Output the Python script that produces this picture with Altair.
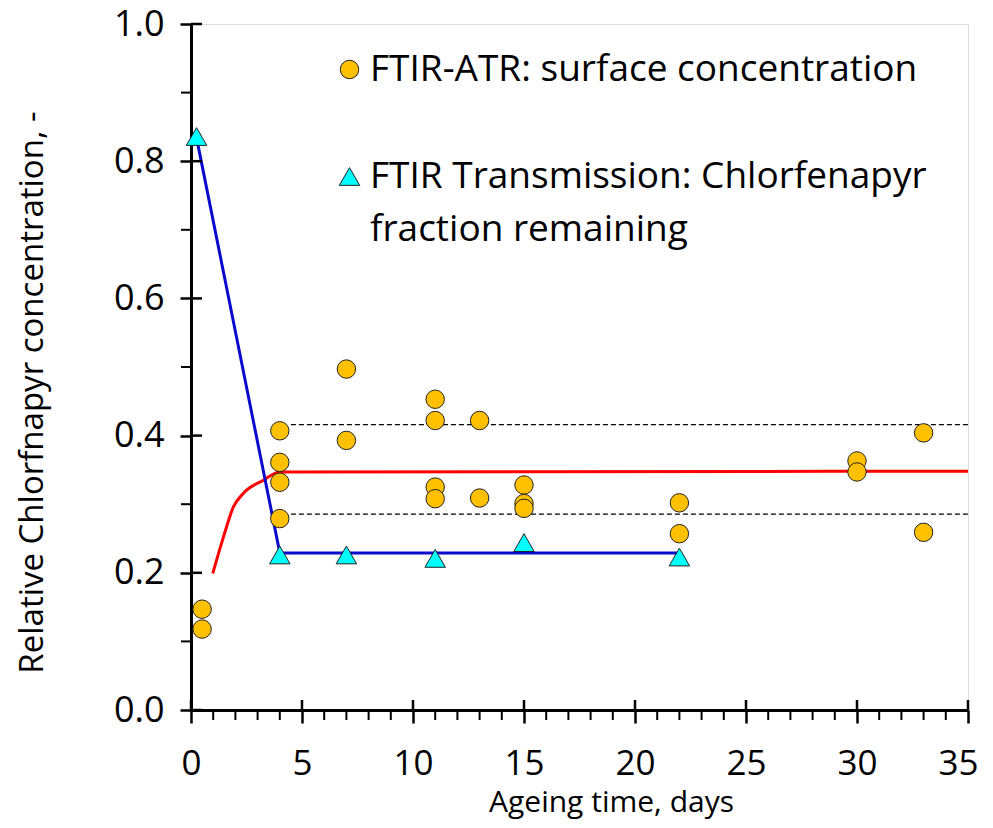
import altair as alt
import pandas as pd

ATR = "FTIR-ATR: surface concentration"
TRN = "FTIR Transmission: Chlorfenapyr fraction remaining"

# FTIR-ATR points (days, relative concentration)
atr_days = [0.5, 0.5, 4, 4, 4, 4, 7, 7, 11, 11, 11, 11, 13, 13, 15, 15, 15, 22, 22, 30, 30, 33, 33]
atr_conc = [0.147, 0.118, 0.407, 0.361, 0.332, 0.279, 0.497, 0.393, 0.453, 0.422, 0.325, 0.308,
            0.422, 0.309, 0.328, 0.301, 0.294, 0.302, 0.257, 0.363, 0.347, 0.404, 0.259]
# FTIR transmission points
trn_days = [0.25, 4, 7, 11, 15, 22]
trn_conc = [0.836, 0.226, 0.226, 0.221, 0.244, 0.223]
# blue fit line
blue_days = [0.25, 4, 22]
blue_conc = [0.834, 0.229, 0.229]
# red model curve
red_days = [0.98, 1.46, 1.91, 2.36, 3.26, 4.0, 35]
red_conc = [0.199, 0.252, 0.296, 0.316, 0.335, 0.347, 0.348]
# dashed band
band_levels = [0.416, 0.2855]
band_start = [4.5, 4.5]
band_end = [35, 35]
# axis ticks
x_major = [0, 5, 10, 15, 20, 25, 30, 35]
x_minor = [v for v in range(0, 36) if v % 5 != 0]
y_major = [0.0, 0.2, 0.4, 0.6, 0.8, 1.0]
y_minor = [0.1, 0.3, 0.5, 0.7, 0.9]

W, H = 777, 686
FONT = "Open Sans"

pts = pd.DataFrame({
    "day": atr_days + trn_days,
    "conc": atr_conc + trn_conc,
    "series": [ATR] * len(atr_days) + [TRN] * len(trn_days),
})
blue = pd.DataFrame({"day": blue_days, "conc": blue_conc})
red = pd.DataFrame({"day": red_days, "conc": red_conc})
band = pd.DataFrame({"level": band_levels, "start": band_start, "end": band_end})

xs = alt.Scale(domain=[0, 35], nice=False, zero=False)
ys = alt.Scale(domain=[0, 1], nice=False)

x_axis = alt.Axis(
    values=x_major, tickSize=13,
    labelOverlap=False, labelFlush=True, labelFlushOffset=10,
    labelFont=FONT, labelFontSize=35, labelColor="black", labelPadding=23,
    domainColor="black", domainWidth=3, tickColor="black", tickWidth=2.5,
    grid=False,
    title="Ageing time, days", titleFont=FONT, titleFontSize=30, titleFontWeight="normal",
    titleColor="black", titleX=420, titleY=101, titleBaseline="alphabetic",
)
y_axis = alt.Axis(
    values=y_major, format=".1f", tickSize=11,
    labelOverlap=False, labelFlush=False,
    labelFont=FONT, labelFontSize=36, labelColor="black", labelPadding=16,
    domainColor="black", domainWidth=3, tickColor="black", tickWidth=2.5,
    grid=False,
    title="Relative Chlorfnapyr concentration, -", titleFont=FONT, titleFontSize=33,
    titleFontWeight="normal", titleColor="black", titleX=-159, titleY=368,
    titleBaseline="middle", titleAlign="center",
)

legend = alt.Legend(
    orient="none", legendX=140, legendY=27, title=None,
    labelFont=FONT, labelFontSize=37, labelLimit=800, labelColor="black",
    symbolSize=380, symbolStrokeColor="#222", symbolStrokeWidth=1,
    rowPadding=69, labelOffset=2, padding=0,
    labelExpr="datum.label == '" + TRN + "' ? ['FTIR Transmission: Chlorfenapyr', 'fraction remaining'] : datum.label",
)

band_layer = alt.Chart(band).mark_rule(color="black", strokeWidth=1.3, strokeDash=[5, 3]).encode(
    x=alt.X("start:Q", scale=xs, axis=None),
    x2="end:Q",
    y=alt.Y("level:Q", scale=ys, axis=None),
)
red_layer = alt.Chart(red).mark_line(color="#FF0000", strokeWidth=3, interpolate="monotone").encode(
    x=alt.X("day:Q", scale=xs, axis=None), y=alt.Y("conc:Q", scale=ys, axis=None)
)
blue_layer = alt.Chart(blue).mark_line(color="#0A0ACC", strokeWidth=3).encode(
    x=alt.X("day:Q", scale=xs, axis=None), y=alt.Y("conc:Q", scale=ys, axis=None)
)
pts_layer = alt.Chart(pts).mark_point(filled=True, opacity=1, stroke="#222", strokeWidth=1).encode(
    x=alt.X("day:Q", scale=xs, axis=x_axis),
    y=alt.Y("conc:Q", scale=ys, axis=y_axis),
    color=alt.Color("series:N", scale=alt.Scale(domain=[ATR, TRN], range=["#FFC000", "#00FFFF"]), legend=legend),
    shape=alt.Shape("series:N", scale=alt.Scale(domain=[ATR, TRN], range=["circle", "triangle-up"]), legend=legend),
    size=alt.Size("series:N", scale=alt.Scale(domain=[ATR, TRN], range=[340, 420]), legend=None),
)
x_in = alt.Chart(pd.DataFrame({"v": x_major})).mark_rule(color="black", strokeWidth=2.5).encode(
    x=alt.X("v:Q", scale=xs, axis=None), y=alt.value(H), y2=alt.value(H - 10)
)
x_min = alt.Chart(pd.DataFrame({"v": x_minor})).mark_rule(color="black", strokeWidth=2).encode(
    x=alt.X("v:Q", scale=xs, axis=None), y=alt.value(H), y2=alt.value(H + 10)
)
y_in = alt.Chart(pd.DataFrame({"v": y_major})).mark_rule(color="black", strokeWidth=2.5).encode(
    y=alt.Y("v:Q", scale=ys, axis=None), x=alt.value(0), x2=alt.value(11)
)
y_min = alt.Chart(pd.DataFrame({"v": y_minor})).mark_rule(color="black", strokeWidth=2).encode(
    y=alt.Y("v:Q", scale=ys, axis=None), x=alt.value(0), x2=alt.value(-10)
)

chart = alt.layer(band_layer, red_layer, blue_layer, x_in, x_min, y_in, y_min, pts_layer).resolve_axis(
    x="independent", y="independent"
).properties(
    width=W, height=H,
    autosize=alt.AutoSizeParams(type="none"),
    padding={"left": 183, "top": 16, "right": 17, "bottom": 110},
).configure_view(stroke="black", strokeWidth=3).configure(style={"guide-label": {"lineHeight": 53}})

chart.save("out.html", embed_options={"renderer": "svg", "actions": False})
